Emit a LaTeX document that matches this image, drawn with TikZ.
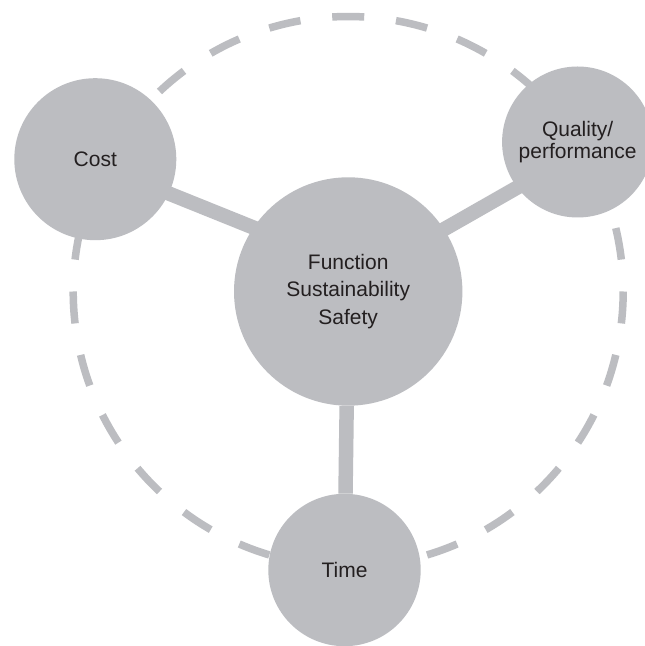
\documentclass[tikz,border=0pt]{standalone}
\usepackage{fontspec}
\setmainfont{Liberation Sans}
\usetikzlibrary{backgrounds}
\definecolor{bubble}{RGB}{188,189,193}
\definecolor{ink}{RGB}{35,31,32}
\begin{document}
\begin{tikzpicture}[x=1pt,y=1pt,
  bubblenode/.style={circle, fill=bubble, inner sep=0pt, text=ink, align=center,
    font=\fontsize{21}{27.3}\selectfont},
  spoke/.style={draw=bubble, line width=14.5pt},
  ringdash/.style={draw=bubble, line width=7.5pt}]
\path[use as bounding box] (0,0) rectangle (645,646);

% the four bubbles
\node[bubblenode, minimum size=228.4pt] (func) at (348.2,354.5) {Function\\Sustainability\\Safety};
\node[bubblenode, minimum size=162pt] (cost) at (95.3,486.8) {Cost};
\node[bubblenode, minimum size=151pt, font=\fontsize{21}{21.7}\selectfont] (quality) at (577.6,504) {Quality/\\performance};
\node[bubblenode, minimum size=152.4pt] (time) at (344.5,76) {Time};

\begin{pgfonlayer}{background}
  \fill[white] (0,0) rectangle (645,646);
  % dashed ring: 27 dashes, one centred at the top
  \foreach \k in {0,...,26} {
    \pgfmathsetmacro{\s}{90+\k*360/27-3.3333}
    \pgfmathsetmacro{\e}{90+\k*360/27+3.3333}
    \draw[ringdash] ([shift={(\s:275pt)}]func.center) arc[start angle=\s, end angle=\e, radius=275pt];
  }
  % spokes from the centre bubble
  \draw[spoke, shorten <=-12pt, shorten >=-12pt] (cost.-25.6) -- (func.146.7);
  \draw[spoke, shorten <=-12pt, shorten >=-12pt] (func.33.4) -- (quality.-143.1);
  \draw[spoke] (func) -- (time);
\end{pgfonlayer}
\end{tikzpicture}
\end{document}
